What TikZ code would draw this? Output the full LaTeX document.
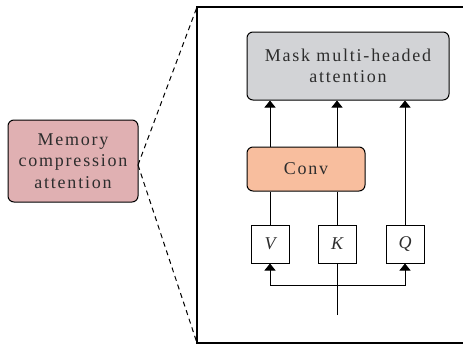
\documentclass[tikz,border=0pt]{standalone}
\usepackage{fontspec}
\setmainfont{Liberation Serif}
\newfontfamily\spaced[LetterSpace=10]{Liberation Serif}
\usetikzlibrary{arrows.meta}
\definecolor{memfill}{RGB}{224,176,178}
\definecolor{convfill}{RGB}{248,190,158}
\definecolor{maskfill}{RGB}{210,211,214}
\definecolor{txt}{RGB}{45,45,45}
\begin{document}
\begin{tikzpicture}[x=1pt,y=-1pt,
  rbox/.style={draw, line width=1pt, rounded corners=6pt, align=center, text=txt, font=\spaced\fontsize{18}{21.5}\selectfont, inner sep=0pt},
  sbox/.style={draw, line width=1pt, minimum width=38pt, minimum height=38pt, inner sep=0pt, font=\fontsize{18}{20}\selectfont\itshape, text=txt},
  arr/.style={line width=1pt, -{Triangle[width=11pt,length=7pt]}},
  ln/.style={line width=1pt}]
\useasboundingbox (0,0) rectangle (463,346);
\draw[line width=1.2pt] (468,7) -- (197,7) -- (197,343) -- (468,343);
\node[rbox, fill=memfill, minimum width=130pt, minimum height=82pt] (mem) at (73,161) {Memory\\compression\\attention};
\coordinate (apex) at (138,165);
\coordinate (ftl) at (197,7);
\coordinate (fbl) at (197,343);
\draw[line width=1pt, dash pattern=on 5pt off 4pt] (apex) -- (ftl);
\draw[line width=1pt, dash pattern=on 5pt off 4pt] (apex) -- (fbl);
\node[rbox, fill=maskfill, minimum width=202pt, minimum height=68pt] (mask) at (348,66) {Mask multi-headed\\attention};
\node[rbox, fill=convfill, minimum width=118pt, minimum height=44pt] (conv) at (306,169) {Conv};
\node[sbox] (V) at (270,244) {V};
\node[sbox] (K) at (337,244) {K};
\node[sbox] (Q) at (405,244) {Q};
\coordinate (in) at (337,315);
\coordinate (jl) at (270,285);
\coordinate (jr) at (405,285);
\draw[arr] (conv.north -| V) -- (mask.south -| V);
\draw[arr] (conv.north -| K) -- (mask.south -| K);
\draw[arr] (Q.north) -- (mask.south -| Q);
\draw[ln] (V.north) -- (conv.south -| V);
\draw[ln] (K.north) -- (conv.south -| K);
\draw[ln] (in) -- (K.south);
\draw[arr] (jl) |- (jr) -- (Q.south);
\draw[arr] (jr) -- (jl) -- (V.south);
\end{tikzpicture}
\end{document}
